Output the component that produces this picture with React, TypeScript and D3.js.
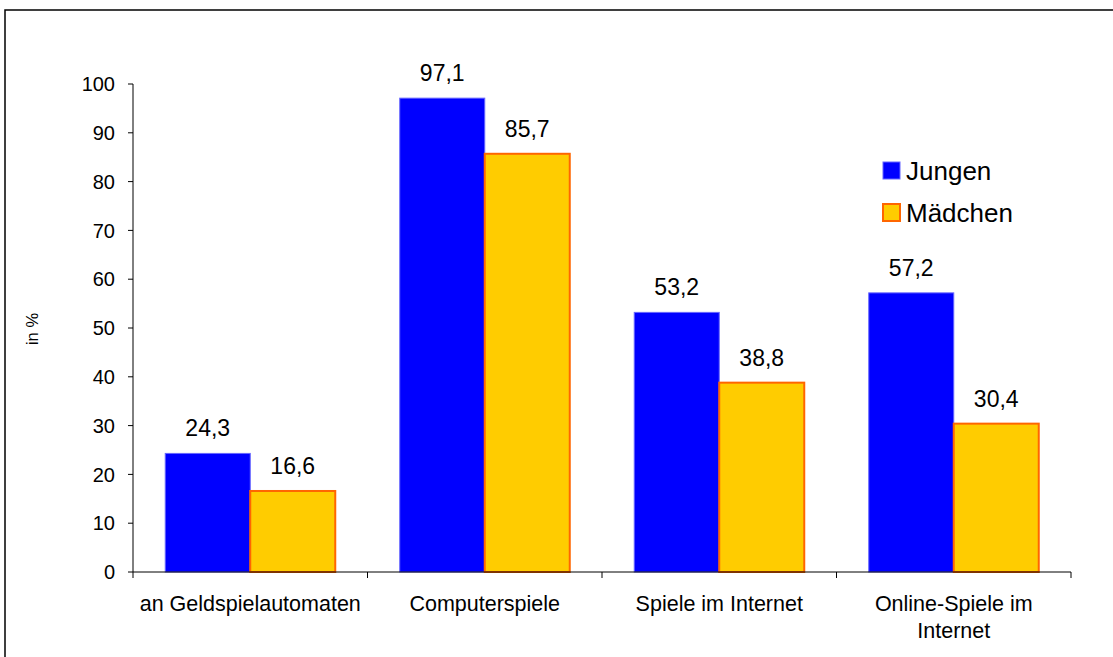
import React from "react";
import * as d3 from "d3";

const categories = ["an Geldspielautomaten", "Computerspiele", "Spiele im Internet", "Online-Spiele im Internet"];
const categoryLines = [["an Geldspielautomaten"], ["Computerspiele"], ["Spiele im Internet"], ["Online-Spiele im", "Internet"]];
const seriesNames = ["Jungen", "Mädchen"];
const jungen = [24.3, 97.1, 53.2, 57.2];
const maedchen = [16.6, 85.7, 38.8, 30.4];
const yTicks = [0, 10, 20, 30, 40, 50, 60, 70, 80, 90, 100];

const fills = ["#0000FF", "#FFCC00"];
const strokes = ["#6666FF", "#FF6600"];
const font = "'Liberation Sans', Arial, sans-serif";

export default function App() {
  const W = 1113, H = 657;
  const x0 = 133, x1 = 1071, yTop = 84, yBot = 572;
  const x = d3.scaleBand().domain(categories).range([x0, x1]).paddingInner(0.275).paddingOuter(0.1375);
  const y = d3.scaleLinear().domain([0, 100]).range([yBot, yTop]);
  const bw = x.bandwidth() / 2;
  const series = [jungen, maedchen];
  const step = (x1 - x0) / categories.length;
  const fmt = (v: number) => v.toFixed(1).replace(".", ",");

  return (
    <svg width={W} height={H} style={{ position: "absolute", left: 0, top: 0 }} fontFamily={font}>
      <rect x={0} y={0} width={W} height={H} fill="#fff" />
      <rect x={5} y={10} width={W + 20} height={H + 20} fill="none" stroke="#000" strokeWidth={1.5} />
      {/* y axis */}
      <line x1={x0} x2={x0} y1={yTop} y2={yBot} stroke="#000" />
      {yTicks.map((t) => (
        <g key={t}>
          <line x1={x0 - 5} x2={x0} y1={y(t)} y2={y(t)} stroke="#000" />
          <text x={x0 - 18} y={y(t)} dy="0.36em" textAnchor="end" fontSize={20} fill="#000">{t}</text>
        </g>
      ))}
      <text transform={`translate(38,329) rotate(-90)`} textAnchor="middle" fontSize={16.5} fill="#000">in %</text>
      {/* bars */}
      {series.map((s, si) =>
        s.map((v, i) => {
          const bx = (x(categories[i]) as number) + si * bw;
          return (
            <g key={`${si}-${i}`}>
              <rect x={bx} y={y(v)} width={bw} height={yBot - y(v)} fill={fills[si]} stroke={strokes[si]} strokeWidth={si === 1 ? 2 : 1} />
              <text x={bx + bw / 2} y={y(v) - 17} textAnchor="middle" fontSize={23} fill="#000">{fmt(v)}</text>
            </g>
          );
        })
      )}
      {/* x axis */}
      <line x1={x0} x2={x1} y1={yBot} y2={yBot} stroke="#000" />
      {d3.range(categories.length + 1).map((i) => (
        <line key={i} x1={x0 + i * step} x2={x0 + i * step} y1={yBot} y2={yBot + 6} stroke="#000" />
      ))}
      {categories.map((c, i) => (
        <text key={c} x={(x(c) as number) + x.bandwidth() / 2} y={611} textAnchor="middle" fontSize={21.5} fill="#000">
          {categoryLines[i].map((l, li) => (
            <tspan key={li} x={(x(c) as number) + x.bandwidth() / 2} dy={li === 0 ? 0 : 27}>{l}</tspan>
          ))}
        </text>
      ))}
      {/* legend */}
      {seriesNames.map((n, i) => (
        <g key={n}>
          <rect x={883} y={162 + i * 42} width={17} height={17} fill={fills[i]} stroke={strokes[i]} strokeWidth={i === 1 ? 2 : 1} />
          <text x={906} y={171 + i * 42} dy="0.36em" fontSize={26} fill="#000">{n}</text>
        </g>
      ))}
    </svg>
  );
}
